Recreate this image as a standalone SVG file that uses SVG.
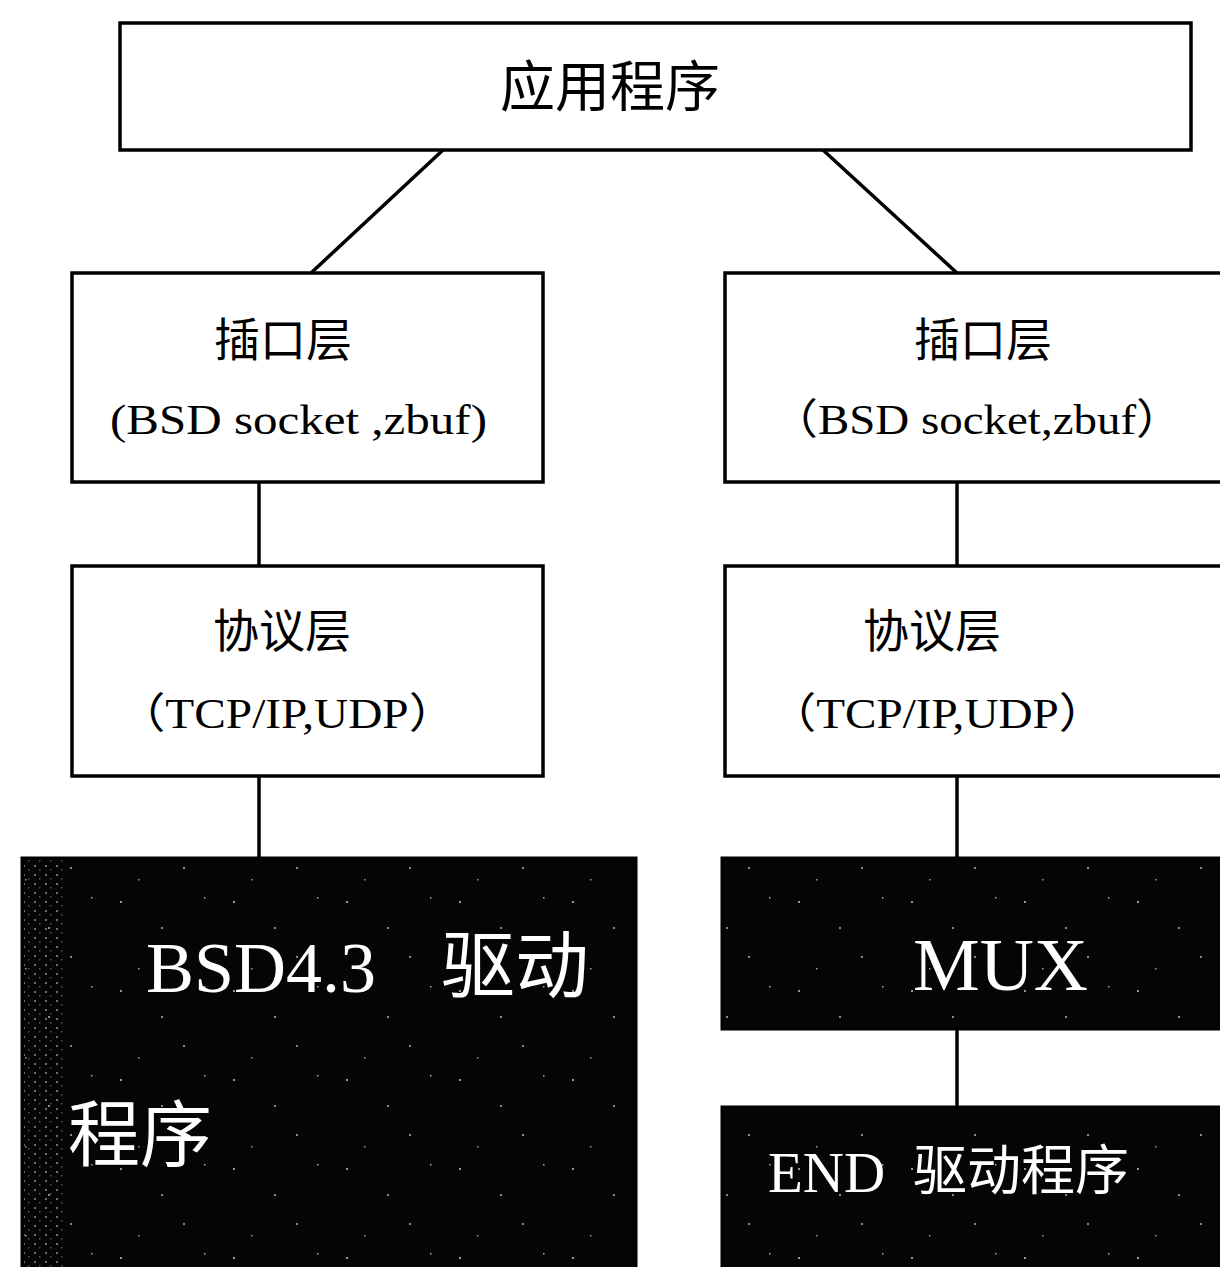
<svg xmlns="http://www.w3.org/2000/svg" width="1220" height="1267" viewBox="0 0 1220 1267">
<style>
.box{fill:#fff;stroke:#000;stroke-width:3.5}
.dark{fill:#050505;stroke:#000;stroke-width:3}
.ln{stroke:#000;stroke-width:3.5;fill:none}
.t{font-family:"Liberation Serif","Noto Sans CJK SC",serif;fill:#000}
.cj{font-family:"Noto Sans CJK SC",sans-serif;fill:#000}
.w{fill:#fff}
</style>
<defs>
<pattern id="speck" width="113" height="89" patternUnits="userSpaceOnUse">
<rect x="7" y="11" width="2" height="2" fill="#999"/>
<rect x="48" y="37" width="2" height="2" fill="#888"/>
<rect x="91" y="7" width="1.5" height="1.5" fill="#aaa"/>
<rect x="70" y="66" width="2" height="2" fill="#888"/>
<rect x="25" y="78" width="1.5" height="1.5" fill="#999"/>
</pattern>
<pattern id="strip" width="11" height="9" patternUnits="userSpaceOnUse">
<rect x="1" y="1" width="2" height="2" fill="#999"/>
<rect x="6" y="5" width="1.5" height="1.5" fill="#777"/>
</pattern>
</defs>
<rect width="1220" height="1267" fill="#fff"/>
<g id="connectors">
<line class="ln" x1="443" y1="150" x2="311" y2="273"/>
<line class="ln" x1="823" y1="150" x2="957" y2="273"/>
<line class="ln" x1="259" y1="482" x2="259" y2="566"/>
<line class="ln" x1="259" y1="776" x2="259" y2="858"/>
<line class="ln" x1="957" y1="482" x2="957" y2="566"/>
<line class="ln" x1="957" y1="776" x2="957" y2="858"/>
<line class="ln" x1="957" y1="1029" x2="957" y2="1107"/>
</g>
<g id="app">
<rect class="box" x="120" y="23" width="1071" height="127"/>
<text class="cj" x="610" y="106" font-size="55" text-anchor="middle">应用程序</text>
</g>
<g id="socket-left">
<rect class="box" x="72" y="273" width="471" height="209"/>
<text class="cj" x="283" y="356" font-size="46" text-anchor="middle">插口层</text>
<text class="t" x="110" y="434" font-size="42" textLength="377" lengthAdjust="spacingAndGlyphs">(BSD socket ,zbuf)</text>
</g>
<g id="socket-right">
<rect class="box" x="725" y="273" width="520" height="209"/>
<text class="cj" x="983" y="356" font-size="46" text-anchor="middle">插口层</text>
<text class="t" x="771" y="434" font-size="42" textLength="412" lengthAdjust="spacingAndGlyphs">（BSD socket,zbuf）</text>
</g>
<g id="proto-left">
<rect class="box" x="72" y="566" width="471" height="210"/>
<text class="cj" x="282" y="647" font-size="46" text-anchor="middle">协议层</text>
<text class="t" x="118" y="728" font-size="42" textLength="338" lengthAdjust="spacingAndGlyphs">（TCP/IP,UDP）</text>
</g>
<g id="proto-right">
<rect class="box" x="725" y="566" width="520" height="210"/>
<text class="cj" x="932" y="647" font-size="46" text-anchor="middle">协议层</text>
<text class="t" x="769" y="728" font-size="42" textLength="337" lengthAdjust="spacingAndGlyphs">（TCP/IP,UDP）</text>
</g>
<g id="bsd-driver">
<rect class="dark" x="22" y="858" width="614" height="420"/>
<rect x="24" y="860" width="610" height="410" fill="url(#speck)"/>
<rect x="24" y="860" width="40" height="410" fill="url(#strip)" opacity="0.7"/>
<text class="t w" x="146" y="992" font-size="72">BSD4.3</text>
<text class="cj w" x="441" y="992" font-size="74">驱动</text>
<text class="cj w" x="68" y="1160" font-size="72">程序</text>
</g>
<g id="mux">
<rect class="dark" x="722" y="858" width="520" height="171"/>
<rect x="724" y="860" width="500" height="167" fill="url(#speck)"/>
<text class="t w" x="913" y="990" font-size="75">MUX</text>
</g>
<g id="end-driver">
<rect class="dark" x="722" y="1107" width="520" height="170"/>
<rect x="724" y="1109" width="500" height="160" fill="url(#speck)"/>
<text class="t w" x="768" y="1192" font-size="57">END</text>
<text class="cj w" x="913" y="1190" font-size="54">驱动程序</text>
</g>
</svg>
